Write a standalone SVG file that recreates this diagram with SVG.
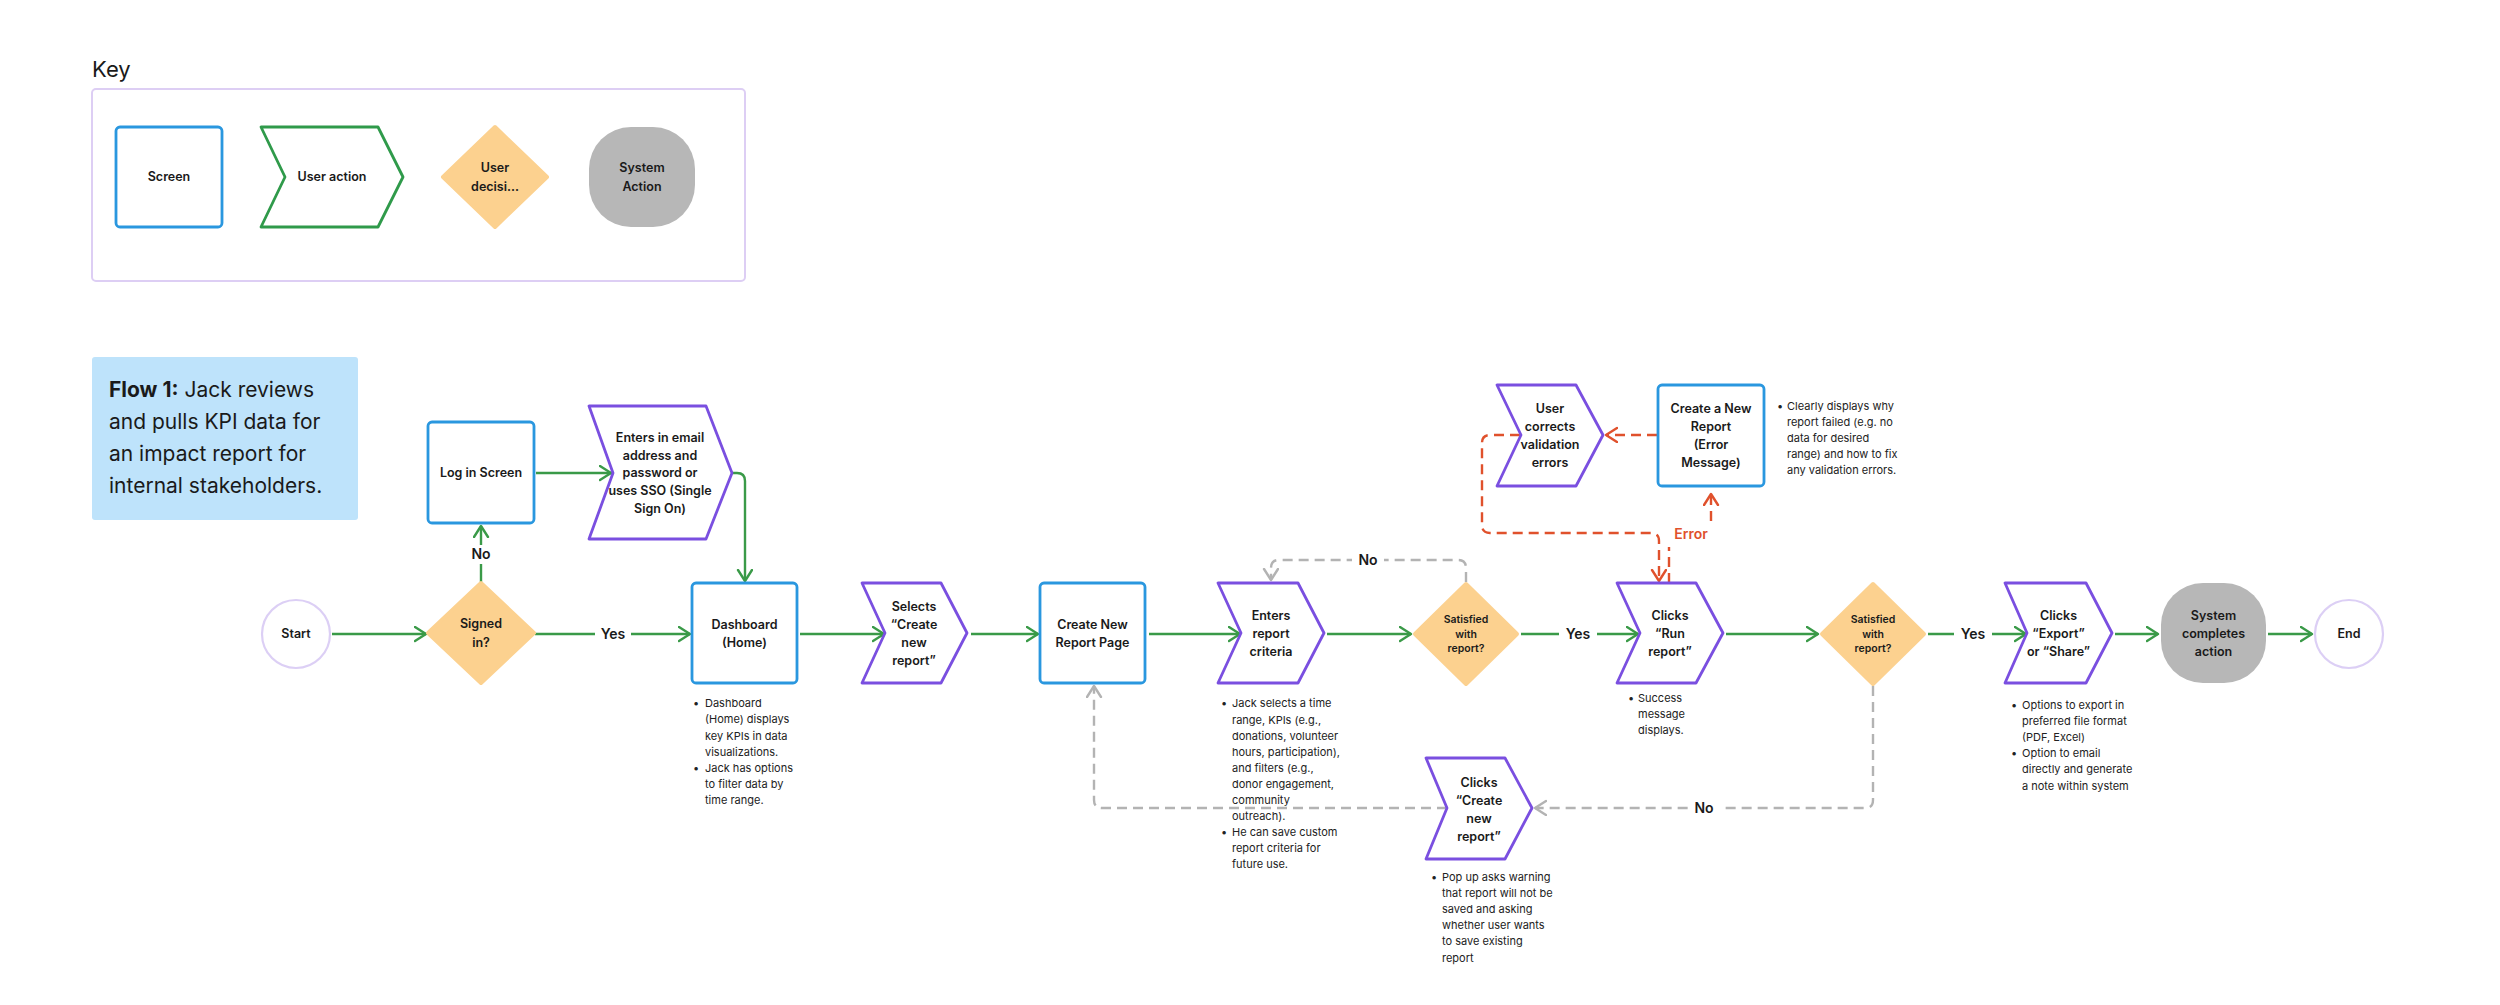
<svg xmlns="http://www.w3.org/2000/svg" width="2500" height="1005" viewBox="0 0 2500 1005">
<style>
text{font-family:Inter,"Liberation Sans",sans-serif;fill:#1a1a1a}
.lbl{font-size:12.5px;font-weight:600;text-anchor:middle}
.sm{font-size:10.5px;font-weight:600;text-anchor:middle}
.note{font-size:11px;fill:#222}
.elab{font-size:14px;font-weight:600;text-anchor:middle}
.screen{fill:#fff;stroke:#2a97df;stroke-width:2.8}
.action{fill:#fff;stroke:#7a4fe0;stroke-width:2.8;stroke-linejoin:round}
.decision{fill:#fcd18f;stroke:#fcd18f;stroke-width:4;stroke-linejoin:round}
.system{fill:#b7b7b7}
.term{fill:#fff;stroke:#dccff5;stroke-width:2.2}
.g{fill:none;stroke:#3a9a48;stroke-width:2.4;marker-end:url(#ag)}
.gd{fill:none;stroke:#b3b3b3;stroke-width:2.4;stroke-dasharray:10 6;marker-end:url(#agr)}
.rd{fill:none;stroke:#e0512c;stroke-width:2.4;stroke-dasharray:10 6;marker-end:url(#ar)}
.bg{fill:#fff}
</style>
<defs>
<marker id="ag" markerUnits="userSpaceOnUse" markerWidth="16" markerHeight="18" refX="12" refY="8" orient="auto"><path d="M1,1 L12,8 L1,15" fill="none" stroke="#3a9a48" stroke-width="2.4" stroke-linecap="round" stroke-linejoin="round"/></marker>
<marker id="agr" markerUnits="userSpaceOnUse" markerWidth="16" markerHeight="18" refX="12" refY="8" orient="auto"><path d="M1,1 L12,8 L1,15" fill="none" stroke="#b3b3b3" stroke-width="2.4" stroke-linecap="round" stroke-linejoin="round"/></marker>
<marker id="ar" markerUnits="userSpaceOnUse" markerWidth="16" markerHeight="18" refX="12" refY="8" orient="auto"><path d="M1,1 L12,8 L1,15" fill="none" stroke="#e0512c" stroke-width="2.4" stroke-linecap="round" stroke-linejoin="round"/></marker>
</defs>
<rect width="2500" height="1005" fill="#fff"/>

<g id="key">
<text x="92" y="77" style="font-size:22px">Key</text>
<rect x="92" y="89" width="653" height="192" rx="4" fill="none" stroke="#ddcef4" stroke-width="2"/>
<rect class="screen" x="116" y="127" width="106" height="100" rx="4"/>
<text class="lbl" x="169" y="181">Screen</text>
<path d="M261,127 H378 L403,177 L378,227 H261 L285,177 Z" fill="#fff" stroke="#2f9a4a" stroke-width="2.8" stroke-linejoin="round"/>
<text class="lbl" x="332" y="181">User action</text>
<polygon class="decision" points="495,127 547,177 495,227 443,177"/>
<text class="lbl" x="495" y="172">User</text>
<text class="lbl" x="495" y="191">decisi...</text>
<rect class="system" x="589" y="127" width="106" height="100" rx="42"/>
<text class="lbl" x="642" y="172">System</text>
<text class="lbl" x="642" y="191">Action</text>
</g>

<g id="flow-title">
<rect x="92" y="357" width="266" height="163" rx="3" fill="#bee3fb"/>
<text x="109" y="397" style="font-size:21px"><tspan font-weight="700">Flow 1:</tspan> Jack reviews</text>
<text x="109" y="429" style="font-size:21px">and pulls KPI data for</text>
<text x="109" y="461" style="font-size:21px">an impact report for</text>
<text x="109" y="493" style="font-size:21px">internal stakeholders.</text>
</g>

<g id="connectors">
<path class="g" d="M332,634 H426"/>
<path class="g" d="M481,583 V526"/>
<rect class="bg" x="466" y="545" width="30" height="19"/>
<text class="elab" x="481" y="559">No</text>
<path class="g" d="M535,634 H690"/>
<rect class="bg" x="595" y="624" width="36" height="20"/>
<text class="elab" x="613" y="639">Yes</text>
<path class="g" d="M536,473 H611"/>
<path class="g" d="M733,473 H737 Q745,473 745,481 V581"/>
<path class="g" d="M800,634 H884"/>
<path class="g" d="M971,634 H1038"/>
<path class="g" d="M1149,634 H1240"/>
<path class="g" d="M1327,634 H1411"/>
<path class="g" d="M1521,634 H1638"/>
<rect class="bg" x="1559" y="624" width="38" height="20"/>
<text class="elab" x="1578" y="639">Yes</text>
<path class="g" d="M1726,634 H1818"/>
<path class="g" d="M1928,634 H2026"/>
<rect class="bg" x="1954" y="624" width="38" height="20"/>
<text class="elab" x="1973" y="639">Yes</text>
<path class="g" d="M2115,634 H2158"/>
<path class="g" d="M2268,634 H2312"/>

<path class="gd" d="M1466,582 V568 Q1466,560 1458,560 H1279 Q1271,560 1271,568 V580"/>
<rect class="bg" x="1352" y="550" width="32" height="20"/>
<text class="elab" x="1368" y="565">No</text>
<path class="gd" d="M1873,686 V800 Q1873,808 1865,808 H1535"/>
<rect class="bg" x="1688" y="798" width="32" height="20"/>
<text class="elab" x="1704" y="813">No</text>
<path class="gd" d="M1447,808 H1102 Q1094,808 1094,800 V686"/>

<path class="rd" d="M1657,435 H1606"/>
<path class="rd" d="M1520,435 H1490 Q1482,435 1482,443 V525 Q1482,533 1490,533 H1651 Q1659,533 1659,541 V581"/>
<path class="rd" d="M1669,583 V547 M1711,521 V494"/>
<text class="elab" x="1691" y="539" style="fill:#e0512c">Error</text>
</g>

<g id="start">
<circle class="term" cx="296" cy="634" r="34"/>
<text class="lbl" x="296" y="638">Start</text>
</g>
<g id="signed-in">
<polygon class="decision" points="481,583 534,633 481,683 428,633"/>
<text class="lbl" x="481" y="628">Signed</text>
<text class="lbl" x="481" y="647">in?</text>
</g>
<g id="login-screen">
<rect class="screen" x="428" y="422" width="106" height="101" rx="4"/>
<text class="lbl" x="481" y="477">Log in Screen</text>
</g>
<g id="enter-credentials">
<path class="action" d="M589,406 H706 L732,473 L706,539 H589 L613,473 Z"/>
<text class="lbl" x="660" y="442">Enters in email</text>
<text class="lbl" x="660" y="460">address and</text>
<text class="lbl" x="660" y="477">password or</text>
<text class="lbl" x="660" y="495">uses SSO (Single</text>
<text class="lbl" x="660" y="513">Sign On)</text>
</g>
<g id="dashboard">
<rect class="screen" x="692" y="583" width="105" height="100" rx="4"/>
<text class="lbl" x="744.5" y="629">Dashboard</text>
<text class="lbl" x="744.5" y="647">(Home)</text>
<text class="note" x="693" y="707">•</text>
<text class="note" x="705" y="707">Dashboard</text>
<text class="note" x="705" y="723">(Home) displays</text>
<text class="note" x="705" y="740">key KPIs in data</text>
<text class="note" x="705" y="756">visualizations.</text>
<text class="note" x="693" y="772">•</text>
<text class="note" x="705" y="772">Jack has options</text>
<text class="note" x="705" y="788">to filter data by</text>
<text class="note" x="705" y="804">time range.</text>
</g>
<g id="selects-create">
<path class="action" d="M862,583 H941 L967,633 L941,683 H862 L885,633 Z"/>
<text class="lbl" x="914" y="611">Selects</text>
<text class="lbl" x="914" y="629">“Create</text>
<text class="lbl" x="914" y="647">new</text>
<text class="lbl" x="914" y="665">report”</text>
</g>
<g id="create-report-page">
<rect class="screen" x="1040" y="583" width="105" height="100" rx="4"/>
<text class="lbl" x="1092.5" y="629">Create New</text>
<text class="lbl" x="1092.5" y="647">Report Page</text>
</g>
<g id="enters-criteria">
<path class="action" d="M1218,583 H1298 L1324,633 L1298,683 H1218 L1241,633 Z"/>
<text class="lbl" x="1271" y="620">Enters</text>
<text class="lbl" x="1271" y="638">report</text>
<text class="lbl" x="1271" y="656">criteria</text>
<text class="note" x="1221" y="707">•</text>
<text class="note" x="1232" y="707">Jack selects a time</text>
<text class="note" x="1232" y="724">range, KPIs (e.g.,</text>
<text class="note" x="1232" y="740">donations, volunteer</text>
<text class="note" x="1232" y="756">hours, participation),</text>
<text class="note" x="1232" y="772">and filters (e.g.,</text>
<text class="note" x="1232" y="788">donor engagement,</text>
<text class="note" x="1232" y="804">community</text>
<text class="note" x="1232" y="820">outreach).</text>
<text class="note" x="1221" y="836">•</text>
<text class="note" x="1232" y="836">He can save custom</text>
<text class="note" x="1232" y="852">report criteria for</text>
<text class="note" x="1232" y="868">future use.</text>
</g>
<g id="satisfied-1">
<polygon class="decision" points="1466,584 1517,634 1466,684 1415,634"/>
<text class="sm" x="1466" y="623">Satisfied</text>
<text class="sm" x="1466" y="638">with</text>
<text class="sm" x="1466" y="652">report?</text>
</g>
<g id="clicks-create-new">
<path class="action" d="M1426,758 H1505 L1532,808 L1505,859 H1426 L1447,808 Z"/>
<text class="lbl" x="1479" y="787">Clicks</text>
<text class="lbl" x="1479" y="805">“Create</text>
<text class="lbl" x="1479" y="823">new</text>
<text class="lbl" x="1479" y="841">report”</text>
<text class="note" x="1431" y="881">•</text>
<text class="note" x="1442" y="881">Pop up asks warning</text>
<text class="note" x="1442" y="897">that report will not be</text>
<text class="note" x="1442" y="913">saved and asking</text>
<text class="note" x="1442" y="929">whether user wants</text>
<text class="note" x="1442" y="945">to save existing</text>
<text class="note" x="1442" y="962">report</text>
</g>
<g id="user-corrects">
<path class="action" d="M1497,385 H1576 L1603,435 L1576,486 H1497 L1521,435 Z"/>
<text class="lbl" x="1550" y="413">User</text>
<text class="lbl" x="1550" y="431">corrects</text>
<text class="lbl" x="1550" y="449">validation</text>
<text class="lbl" x="1550" y="467">errors</text>
</g>
<g id="error-message">
<rect class="screen" x="1658" y="385" width="106" height="101" rx="4"/>
<text class="lbl" x="1711" y="413">Create a New</text>
<text class="lbl" x="1711" y="431">Report</text>
<text class="lbl" x="1711" y="449">(Error</text>
<text class="lbl" x="1711" y="467">Message)</text>
<text class="note" x="1777" y="410">•</text>
<text class="note" x="1787" y="410">Clearly displays why</text>
<text class="note" x="1787" y="426">report failed (e.g. no</text>
<text class="note" x="1787" y="442">data for desired</text>
<text class="note" x="1787" y="458">range) and how to fix</text>
<text class="note" x="1787" y="474">any validation errors.</text>
</g>
<g id="run-report">
<path class="action" d="M1617,583 H1696 L1723,633 L1696,683 H1617 L1640,633 Z"/>
<text class="lbl" x="1670" y="620">Clicks</text>
<text class="lbl" x="1670" y="638">“Run</text>
<text class="lbl" x="1670" y="656">report”</text>
<text class="note" x="1628" y="702">•</text>
<text class="note" x="1638" y="702">Success</text>
<text class="note" x="1638" y="718">message</text>
<text class="note" x="1638" y="734">displays.</text>
</g>
<g id="satisfied-2">
<polygon class="decision" points="1873,584 1924,634 1873,684 1822,634"/>
<text class="sm" x="1873" y="623">Satisfied</text>
<text class="sm" x="1873" y="638">with</text>
<text class="sm" x="1873" y="652">report?</text>
</g>
<g id="export-share">
<path class="action" d="M2005,583 H2086 L2112,633 L2086,683 H2005 L2027,633 Z"/>
<text class="lbl" x="2058.5" y="620">Clicks</text>
<text class="lbl" x="2058.5" y="638">“Export”</text>
<text class="lbl" x="2058.5" y="656">or “Share”</text>
<text class="note" x="2011" y="709">•</text>
<text class="note" x="2022" y="709">Options to export in</text>
<text class="note" x="2022" y="725">preferred file format</text>
<text class="note" x="2022" y="741">(PDF, Excel)</text>
<text class="note" x="2011" y="757">•</text>
<text class="note" x="2022" y="757">Option to email</text>
<text class="note" x="2022" y="773">directly and generate</text>
<text class="note" x="2022" y="790">a note within system</text>
</g>
<g id="system-completes">
<rect class="system" x="2161" y="583" width="105" height="100" rx="42"/>
<text class="lbl" x="2213.5" y="620">System</text>
<text class="lbl" x="2213.5" y="638">completes</text>
<text class="lbl" x="2213.5" y="656">action</text>
</g>
<g id="end">
<circle class="term" cx="2349" cy="634" r="34"/>
<text class="lbl" x="2349" y="638">End</text>
</g>
</svg>
